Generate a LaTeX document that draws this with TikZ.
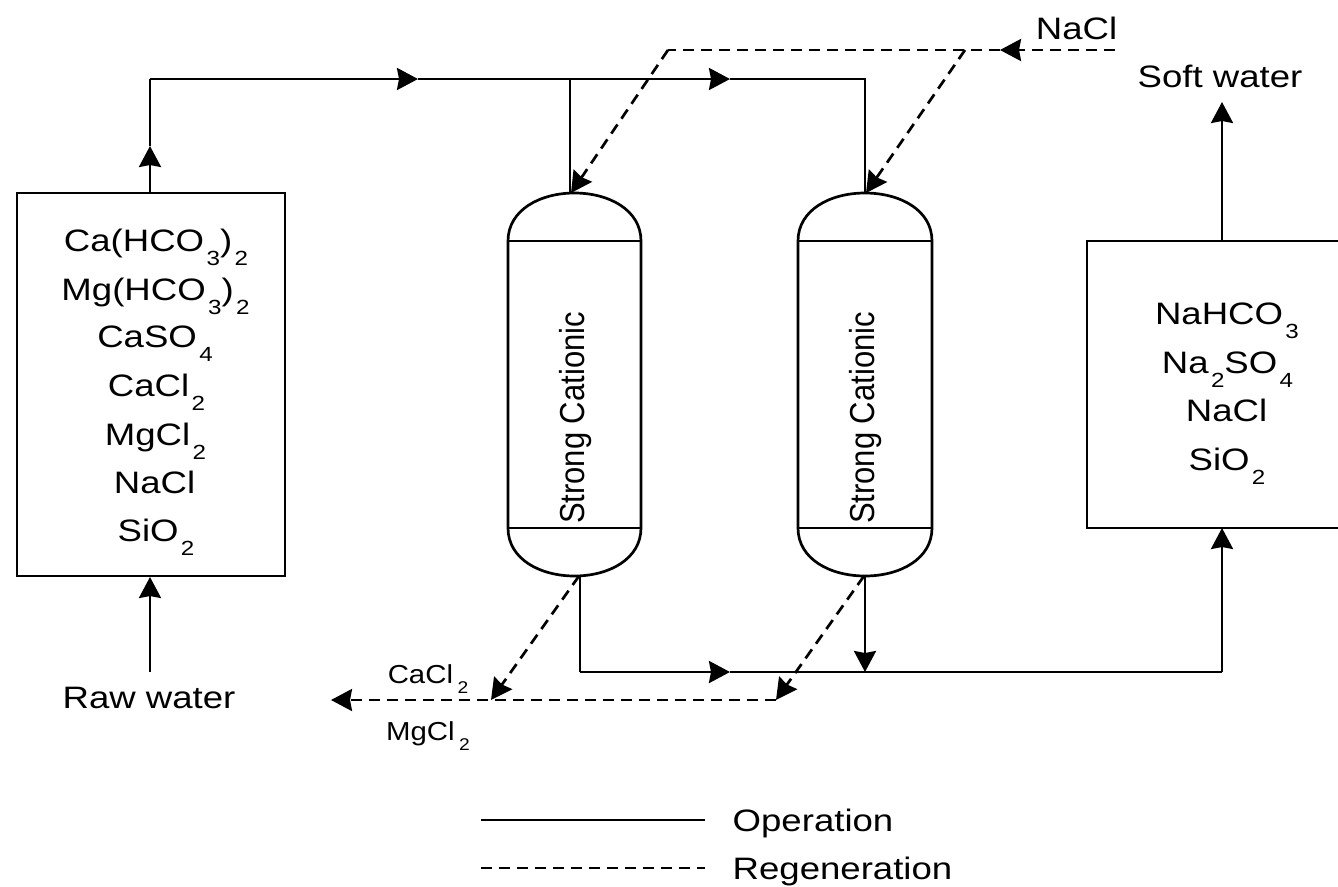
\documentclass[tikz,border=0pt]{standalone}
\usepackage{fontspec}
\usetikzlibrary{arrows.meta}
\setmainfont{Liberation Sans}
\newcommand{\lowr}[1]{\kern2pt\raisebox{-14pt}{\fontsize{20.5}{20.5}\selectfont #1}}
\newcommand{\lowb}[1]{\kern4pt\raisebox{-10pt}{\fontsize{17}{17}\selectfont #1}}
\tikzset{
  x=1pt,y=-1pt,
  line/.style={draw=black,line width=2.7pt},
  flow/.style={line,-{Stealth[length=21pt,width=22pt,inset=2pt]}},
  plain/.style={line},
  dashline/.style={line,dash pattern=on 11pt off 7pt},
  dashflow/.style={dashline,-{Stealth[length=21pt,width=22pt,inset=2pt]}},
  txt/.style={anchor=base,inner sep=0pt,font=\fontsize{31}{31}\selectfont,xscale=1.18,transform shape},
  small/.style={anchor=base,inner sep=0pt,font=\fontsize{26}{26}\selectfont,xscale=1.13,transform shape},
  tank/.style={line,fill=none,inner sep=0pt,rectangle},
  vert/.style={anchor=center,inner sep=0pt,font=\fontsize{31}{31}\selectfont},
}
\begin{document}
\begin{tikzpicture}
\useasboundingbox (0,0) rectangle (1338,886);
% boxes
\node[tank,draw,minimum width=268pt,minimum height=383pt] (feed) at (151,384.5) {};
\node[tank,draw,minimum width=260pt,minimum height=287pt] (prod) at (1217,384.5) {};
% vessels
\coordinate (v1a) at (508,241);
\coordinate (v1b) at (641,241);
\coordinate (v1c) at (641,528);
\coordinate (v1d) at (508,528);
\coordinate (v1t) at (574.5,193);
\coordinate (v1u) at (574.5,576);
\coordinate (v2a) at (798,241);
\coordinate (v2b) at (932,241);
\coordinate (v2c) at (932,528);
\coordinate (v2d) at (798,528);
\coordinate (v2t) at (865,193);
\coordinate (v2u) at (865,576);
\draw[line] (v1a) .. controls (508,210) and (540,193) .. (v1t) .. controls (609,193) and (641,210) .. (v1b) -- (v1c) .. controls (641,559) and (609,576) .. (v1u) .. controls (540,576) and (508,559) .. (v1d) -- cycle;
\draw[line] (v1b) -- (v1a) (v1c) -- (v1d);
\draw[line] (v2a) .. controls (798,210) and (830,193) .. (v2t) .. controls (900,193) and (932,210) .. (v2b) -- (v2c) .. controls (932,559) and (900,576) .. (v2u) .. controls (830,576) and (798,559) .. (v2d) -- cycle;
\draw[line] (v2b) -- (v2a) (v2c) -- (v2d);
\node[vert] (t1) at (575.5,418) {\scalebox{1.12}[1]{\rotatebox{90}{Strong Cationic}}};
\node[vert] (t2) at (865.5,418) {\scalebox{1.12}[1]{\rotatebox{90}{Strong Cationic}}};
% junctions
\coordinate (feedtop) at (150,193);
\coordinate (c1) at (150,79);
\coordinate (a1) at (150,146);
\coordinate (m1) at (418,79);
\coordinate (m2) at (730,79);
\coordinate (j1) at (570,79);
\coordinate (c2) at (865,79);
\coordinate (v1in) at (570,193);
\coordinate (v2in) at (865,193);
\coordinate (nacl) at (1115,50);
\coordinate (m3) at (1000,50);
\coordinate (j2) at (965,50);
\coordinate (c3) at (668,50);
\coordinate (r1) at (571,193);
\coordinate (r2) at (866,193);
\coordinate (o1) at (580,576);
\coordinate (o2) at (865,576);
\coordinate (c4) at (580,672);
\coordinate (m4) at (730,672);
\coordinate (j3) at (865,672);
\coordinate (c5) at (1222,672);
\coordinate (p1) at (1222,528);
\coordinate (p2) at (1222,241);
\coordinate (p3) at (1222,102);
\coordinate (raw) at (150,672);
\coordinate (rawin) at (150,577);
\coordinate (w1) at (579,576);
\coordinate (w2) at (864,576);
\coordinate (w3) at (491,700);
\coordinate (w4) at (776,700);
\coordinate (w5) at (331,700);
\coordinate (l1) at (481,820);
\coordinate (l2) at (705,820);
\coordinate (l3) at (481,868);
\coordinate (l4) at (705,868);
% operation
\draw[flow] (raw) -- (rawin);
\draw[plain] (a1) -- (c1);
\draw[flow] (feedtop) -- (a1);
\draw[flow] (c1) -- (m1);
\draw[flow] (m1) -- (m2);
\draw[plain] (m2) -- (c2) -- (v2in);
\draw[plain] (j1) -- (v1in);
\draw[plain] (o1) -- (c4);
\draw[flow] (c4) -- (m4);
\draw[plain] (m4) -- (c5);
\draw[flow] (c5) -- (p1);
\draw[flow] (o2) -- (j3);
\draw[flow] (p2) -- (p3);
% regeneration
\draw[dashflow] (nacl) -- (m3);
\draw[dashflow] (j2) -- (r2);
\draw[dashline] (m3) -- (c3);
\draw[dashflow] (c3) -- (r1);
\draw[dashflow] (w1) -- (w3);
\draw[dashflow] (w2) -- (w4);
\draw[dashflow] (w4) -- (w5);
% legend
\draw[plain] (l1) -- (l2);
\draw[dashline] (l3) -- (l4);
% text
\node[txt] (a) at (156,251) {Ca(HCO\lowr{3})\lowr{2}};
\node[txt] (b) at (155.5,300) {Mg(HCO\lowr{3})\lowr{2}};
\node[txt] (d) at (155,347) {CaSO\lowr{4}};
\node[txt] (e) at (156.5,396) {CaCl\lowr{2}};
\node[txt] (f) at (155.5,445) {MgCl\lowr{2}};
\node[txt] (g) at (154.5,493) {NaCl};
\node[txt] (h) at (156,541) {SiO\lowr{2}};
\node[txt] (i) at (1227,324) {NaHCO\lowr{3}};
\node[txt] (j) at (1227.5,373) {Na\lowr{2}SO\lowr{4}};
\node[txt] (k) at (1226.5,421) {NaCl};
\node[txt] (l) at (1227,470) {SiO\lowr{2}};
\node[txt] (n) at (1076.5,39) {NaCl};
\node[txt] (s) at (1220,87) {Soft water};
\node[txt] (q) at (149,708) {Raw water};
\node[small] (u) at (428,683) {CaCl\lowb{2}};
\node[small] (v) at (428,740) {MgCl\lowb{2}};
\node[txt] (o) at (813,831) {Operation};
\node[txt] (y) at (842.5,879) {Regeneration};
\end{tikzpicture}
\end{document}
